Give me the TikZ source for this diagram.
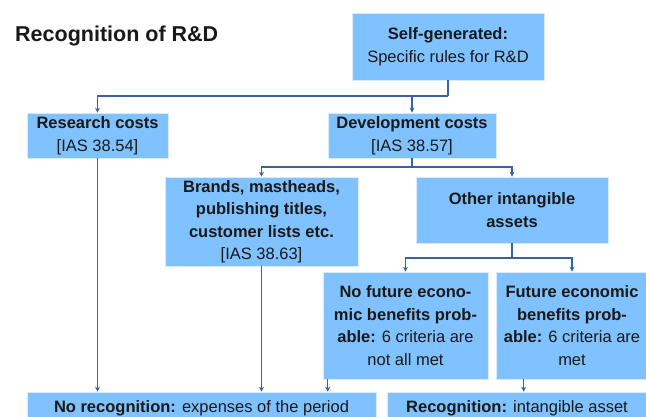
\documentclass[tikz,border=0pt]{standalone}
\usepackage{fontspec}
\setmainfont{Liberation Sans}
\usetikzlibrary{arrows.meta}
\definecolor{boxblue}{RGB}{128,193,255}
\definecolor{linkblue}{RGB}{56,98,160}
\definecolor{txt}{RGB}{25,25,25}
\begin{document}
\begin{tikzpicture}[x=1pt,y=-1pt,
  box/.style={fill=boxblue, draw=white!70!boxblue, line width=0.6pt, inner sep=0pt,
    align=center, text=txt, font=\fontsize{16.5}{22.5}\selectfont},
  conn/.style={draw=linkblue, line width=1.3pt},
  arr/.style={conn, -{Stealth[length=5pt,width=5pt]}}]
\useasboundingbox (0,0) rectangle (646,417);
\clip (0,0) rectangle (646,417);
\fill[white] (0,0) rectangle (646,417);
\node[anchor=base west, inner sep=0pt, font=\bfseries\fontsize{21.5}{24}\selectfont, text=txt] (title) at (15,42) {Recognition of R\&D};

\node[box, minimum width=192pt, minimum height=67pt] (self) at (448,46.5) {\textbf{Self-generated:}\\Specific rules for R\&D};
\node[box, minimum width=141pt, minimum height=45pt] (research) at (97.5,135.5) {\textbf{Research costs}\\{}[IAS 38.54]};
\node[box, minimum width=168pt, minimum height=45pt] (dev) at (412,135.5) {\textbf{Development costs}\\{}[IAS 38.57]};
\node[box, minimum width=193pt, minimum height=89pt] (brands) at (261.5,221.5) {\textbf{Brands, mastheads,}\\\textbf{publishing titles,}\\\textbf{customer lists etc.}\\{}[IAS 38.63]};
\node[box, minimum width=192pt, minimum height=66pt] (other) at (512,210) {\textbf{Other intangible}\\\textbf{assets}};
\node[box, minimum width=165pt, minimum height=107pt] (nofut) at (405.5,325.5) {\textbf{No future econo-}\\\textbf{mic benefits prob-}\\\textbf{able:} 6 criteria are\\not all met};
\node[box, minimum width=152pt, minimum height=107pt] (fut) at (572,325.5) {\textbf{Future economic}\\\textbf{benefits prob-}\\\textbf{able:} 6 criteria are\\met};
\node[box, minimum width=349pt, minimum height=32pt, text height=12pt, text depth=4pt] (norec) at (201.5,408) {\textbf{No recognition:} expenses of the period};
\node[box, minimum width=260pt, minimum height=32pt, text height=12pt, text depth=4pt] (rec) at (517,408) {\textbf{Recognition:} intangible asset};

% connectors
\coordinate (j1) at (448,96);
\draw[conn] (self.south) -- (j1);
\draw[arr] (j1) -| (research.north);
\draw[arr] (dev.north |- j1) -- (dev.north);

\coordinate (j2) at (412,167);
\draw[conn] (dev.south) -- (j2);
\draw[arr] (j2) -| (brands.north);
\draw[arr] (j2) -| (other.north);

\coordinate (j3) at (512,258);
\draw[conn] (other.south) -- (j3);
\draw[arr] (j3) -| (nofut.north);
\draw[arr] (j3) -| (fut.north);

\draw[arr] (research.south) -- (research.south |- norec.north);
\draw[arr] (brands.south) -- (brands.south |- norec.north);
\coordinate (n1) at ([xshift=5pt]nofut.south west);
\draw[arr] (n1) -- (n1 |- norec.north);
\coordinate (f1) at ([xshift=28pt]fut.south west);
\draw[arr] (f1) -- (f1 |- rec.north);
\end{tikzpicture}
\end{document}
